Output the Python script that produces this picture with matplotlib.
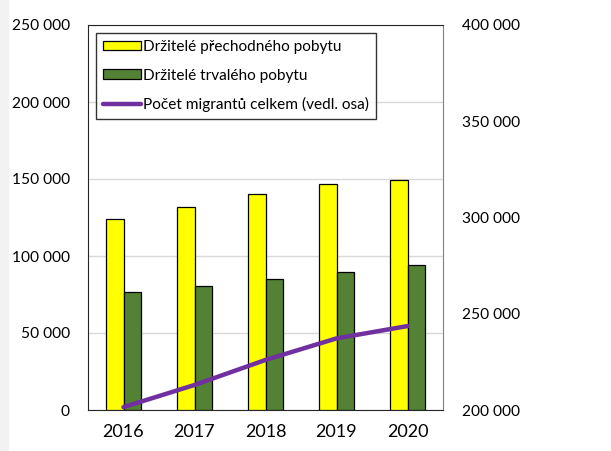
import numpy as np
import matplotlib.pyplot as plt
from matplotlib.ticker import FuncFormatter

plt.rcParams['font.family'] = ['Lato', 'DejaVu Sans']

years = ['2016', '2017', '2018', '2019', '2020']
prechodny = [124300, 131600, 140000, 147000, 149200]
trvaly = [76800, 80700, 84900, 89400, 93900]
migranti = [201500, 213000, 226000, 237200, 243600]


def fmt(v, pos):
    return '{:,.0f}'.format(v).replace(',', ' ')


fig = plt.figure(figsize = (6.11, 4.51), dpi = 100)
fig.patches.append(plt.Rectangle((0, 0), 8 / 611, 1, transform = fig.transFigure,
                                 color = '#f2f2f2', zorder = 0))
ax = fig.add_axes([88 / 611, 1 - 410 / 451, 355 / 611, 385 / 451])
x = np.arange(len(years))
w = 0.24
ax.bar(x - w / 2, prechodny, w, color = '#ffff00', edgecolor = 'black', linewidth = 0.9,
       label = 'Držitelé přechodného pobytu', zorder = 3)
ax.bar(x + w / 2, trvaly, w, color = '#548235', edgecolor = 'black', linewidth = 0.9,
       label = 'Držitelé trvalého pobytu', zorder = 3)
ax.set_ylim(0, 250000)
ax.set_xlim(-0.5, 4.5)
ax.set_yticks(np.arange(0, 250001, 50000))
ax.yaxis.set_major_formatter(FuncFormatter(fmt))
ax.set_xticks(x)
ax.set_xticklabels(years, fontsize = 13)
ax.tick_params(axis = 'y', length = 0, labelsize = 11.2, pad = 13)
ax.tick_params(axis = 'x', length = 0, pad = 10)
ax.grid(axis = 'y', color = '#d9d9d9', linewidth = 1, zorder = 0)
for s in ['left', 'bottom', 'top']:
    ax.spines[s].set_color('#262626')
ax.spines['right'].set_color('#808080')

ax2 = ax.twinx()
ax2.plot(x, migranti, color = '#7030a0', linewidth = 3.2, solid_capstyle = 'round',
         label = 'Počet migrantů celkem (vedl. osa)', zorder = 4)
ax2.set_ylim(200000, 400000)
ax2.set_yticks(np.arange(200000, 400001, 50000))
ax2.yaxis.set_major_formatter(FuncFormatter(fmt))
ax2.tick_params(axis = 'y', length = 0, labelsize = 11.2, pad = 14)
for s in ax2.spines.values():
    s.set_visible(False)

h1, l1 = ax.get_legend_handles_labels()
h2, l2 = ax2.get_legend_handles_labels()
leg = ax2.legend(h1 + h2, l1 + l2, loc = 'upper left', bbox_to_anchor = (8 / 355, 1 - 8 / 385),
                 fontsize = 11.1, frameon = True, fancybox = False, edgecolor = 'black',
                 borderaxespad = 0, handlelength = 2.5, handletextpad = 0.13,
                 labelspacing = 0.95, borderpad = 0.45, handleheight = 0.55)
leg.get_frame().set_linewidth(1)
leg.set_zorder(10)

fig.savefig('out.png', dpi = 100)
